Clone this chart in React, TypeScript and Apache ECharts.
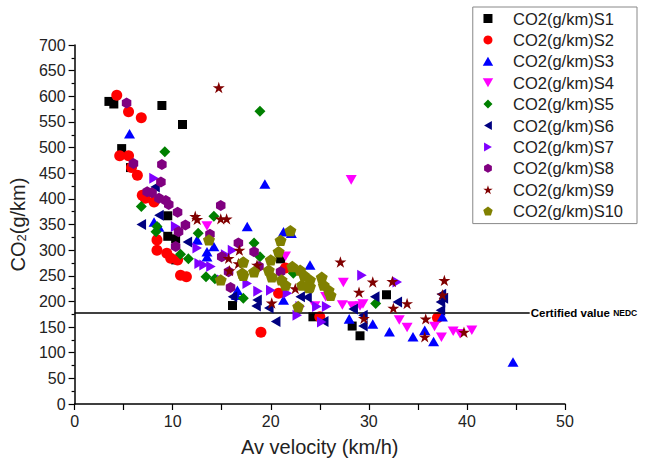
import React, { useEffect, useRef } from "react";
import * as echarts from "echarts";

const seriesNames = [
  "CO2(g/km)S1", "CO2(g/km)S2", "CO2(g/km)S3", "CO2(g/km)S4", "CO2(g/km)S5",
  "CO2(g/km)S6", "CO2(g/km)S7", "CO2(g/km)S8", "CO2(g/km)S9", "CO2(g/km)S10",
];

const s1: number[][] = [[3.5,590],[4,585],[8.9,582],[11,545],[4.8,498],[5.7,461],[9.5,367],[9.5,327],[10.3,322],[10.3,281],[16.1,192],[21,283],[24.3,170],[28.3,152],[29.1,133],[31.8,213]];
const s2: number[][] = [[4.3,602],[5.5,570],[6.8,558],[4.6,484],[5.5,484],[5.8,461],[6.4,446],[6.9,407],[7.2,401],[8.1,394],[8.4,320],[8.4,300],[9.4,294],[9.8,284],[10.5,281],[10.8,251],[11.4,248],[19,140],[21.5,265],[20.8,216],[25,170],[37,168]];
const s3: number[][] = [[5.6,527],[19.4,429],[17.6,346],[21.3,336],[22.1,333],[8.1,355],[8.6,345],[12.5,320],[14.2,307],[13.5,297],[24,271],[21.3,203],[16.5,212],[16.6,222],[30.4,156],[32.1,141],[34.5,131],[36.6,122],[28,166],[35.7,144],[37.5,170],[44.7,82],[13.5,287]];
const s4: number[][] = [[28.2,437],[13.5,347],[21.5,288],[27.4,237],[25.6,209],[27.3,193],[28.3,191],[29.1,191],[24.5,191],[33.1,164],[33.9,149],[36.7,151],[37.4,130],[38.6,142],[39.3,137],[40.5,144],[29.4,195]];
const s5: number[][] = [[9.2,492],[18.9,571],[6.8,385],[8.4,346],[8.3,336],[12.6,333],[14.2,366],[10.8,292],[11.6,283],[13.4,248],[14.3,244],[17.2,206],[18.3,314],[18.9,287],[22.3,255],[30.7,196]];
const s6: number[][] = [[6.8,350],[8.6,368],[8.2,423],[11.5,316],[16.1,209],[18.5,191],[18.6,203],[19.8,187],[20.5,161],[23,209],[23.7,208],[25.4,161],[28.4,185],[29.4,152],[29.4,173],[30.6,209],[32.9,199],[37.3,199],[37.3,183],[37.4,214],[37.6,206]];
const s7: number[][] = [[8.1,440],[10.3,346],[12.5,304],[13.2,271],[13.9,268],[15.4,291],[16.1,300],[15,242],[17.6,235],[18.7,220],[20,222],[21.7,216],[22.7,173],[24.7,190],[25.7,190],[29.3,251],[32.9,238],[25.2,160],[23,190],[12.7,274]];
const s8: number[][] = [[5.3,587],[6,469],[8.9,467],[8.8,433],[7.4,414],[7.9,412],[8.6,401],[9.3,397],[9.6,389],[10.5,374],[11.3,349],[10.6,336],[10.3,307],[14.9,387],[13.8,331],[15,287],[16.7,314],[15.9,227],[15.7,258],[18.3,297],[18.8,268],[21,258]];
const s9: number[][] = [[14.7,617],[12.3,366],[12.5,360],[14.9,361],[15.5,361],[15.7,284],[16.8,300],[16.7,274],[18.6,271],[15.8,260],[20.1,197],[22.5,225],[27.1,277],[30.4,238],[32.4,239],[37.7,241],[29,218],[32.5,187],[33.9,196],[35.8,166],[35.7,131],[37.5,213],[39.7,140],[29.5,167]];
const s10: number[][] = [[22,338],[21,319],[20.8,297],[17.2,277],[18.3,258],[17.2,251],[20,281],[19.8,261],[20.1,248],[21.1,242],[21.5,232],[22.2,268],[23,261],[23.4,251],[24,242],[23.2,232],[23.9,227],[25.2,247],[25.4,232],[25.9,222],[26.1,212],[22.8,190],[13.7,320],[14.9,242],[17.1,255],[24,229]];

const seriesData = [s1, s2, s3, s4, s5, s6, s7, s8, s9, s10];
const colors = ["#000000", "#ff0000", "#0000ff", "#ff00ff", "#008000", "#000080", "#8000ff", "#800080", "#800000", "#808000"];

const NEDC_VALUE = 178;
const NEDC_LINE_END = 46.4;

const symbols = [
  "path://M0,0 L10,0 L10,10 L0,10 Z",
  "circle",
  "path://M5,0 L10,8.66 L0,8.66 Z",
  "path://M0,0 L10,0 L5,8.66 Z",
  "path://M5,0 L10,5 L5,10 L0,5 Z",
  "path://M0,5 L8.66,0 L8.66,10 Z",
  "path://M0,0 L8.66,5 L0,10 Z",
  "path://M5,0 L9.33,2.5 L9.33,7.5 L5,10 L0.67,7.5 L0.67,2.5 Z",
  "path://M50,0 L61.2,34.55 L97.55,34.55 L68.2,55.9 L79.4,90.45 L50,69.1 L20.6,90.45 L31.8,55.9 L2.45,34.55 L38.8,34.55 Z",
  "path://M50,0 L97.55,34.55 L79.4,90.45 L20.6,90.45 L2.45,34.55 Z",
];
const sizes = [9, 11, 11, 11, 11, 11, 11, 11, 12, 12];

const FONT = "'Liberation Sans', Arial, sans-serif";

export default function App() {
  const ref = useRef<HTMLDivElement>(null);
  useEffect(() => {
    if (!ref.current) return;
    const chart = echarts.init(ref.current, undefined, { renderer: "svg" });
    const series: any[] = seriesNames.map((name, i) => ({
      name,
      type: "scatter",
      data: seriesData[i],
      symbol: symbols[i],
      symbolSize: sizes[i],
      symbolKeepAspect: true,
      itemStyle: { color: colors[i], opacity: 1 },
      z: 2 + i,
    }));
    series[0].markLine = {
      silent: true,
      symbol: "none",
      lineStyle: { color: "#000", width: 1.6, type: "solid" },
      label: {
        show: true,
        position: "end",
        distance: 1,
        formatter: "Certified value {s|NEDC}",
        fontFamily: FONT,
        fontWeight: "bold",
        fontSize: 11.5,
        color: "#000",
        rich: { s: { fontSize: 8.5, fontWeight: "bold", fontFamily: FONT, color: "#000" } },
      },
      data: [[{ coord: [0, NEDC_VALUE] }, { coord: [NEDC_LINE_END, NEDC_VALUE] }]],
    };
    chart.setOption({
      animation: false,
      backgroundColor: "#fff",
      textStyle: { fontFamily: FONT },
      grid: { left: 74, right: 81, top: 45, bottom: 66, containLabel: false },
      legend: {
        orient: "vertical",
        right: 9,
        top: 7,
        padding: [3, 14, 4, 10],
        itemGap: 4.4,
        itemWidth: 40,
        itemHeight: 9,
        borderColor: "#888",
        borderWidth: 1,
        data: seriesNames,
        textStyle: { fontSize: 16.5, color: "#222", fontFamily: FONT, lineHeight: 17 },
      },
      xAxis: {
        type: "value",
        min: 0,
        max: 50,
        interval: 10,
        name: "Av velocity (km/h)",
        nameLocation: "middle",
        nameGap: 33,
        nameTextStyle: { fontSize: 20, color: "#222", fontFamily: FONT },
        axisLine: { show: true, lineStyle: { color: "#000", width: 1.5 } },
        axisTick: { show: true, inside: false, length: 6, lineStyle: { color: "#000", width: 1.2 } },
        minorTick: { show: true, splitNumber: 2, length: 6, lineStyle: { color: "#000", width: 1.2 } },
        axisLabel: { fontSize: 16, color: "#222", margin: 9, fontFamily: FONT },
        splitLine: { show: false },
      },
      yAxis: {
        type: "value",
        min: 0,
        max: 700,
        interval: 50,
        name: "CO{m|2}(g/km)",
        nameLocation: "middle",
        nameGap: 22,
        nameTextStyle: {
          fontSize: 20,
          color: "#222",
          fontFamily: FONT,
          rich: {
            m: { fontSize: 13, verticalAlign: "bottom", lineHeight: 13, color: "#222", fontFamily: FONT },
          },
        },
        axisLine: { show: true, lineStyle: { color: "#000", width: 1.5 } },
        axisTick: { show: true, inside: false, length: 6, lineStyle: { color: "#000", width: 1.2 } },
        minorTick: { show: true, splitNumber: 2, length: 3, lineStyle: { color: "#000", width: 1.2 } },
        axisLabel: { fontSize: 16, color: "#222", margin: 9, fontFamily: FONT },
        splitLine: { show: false },
      },
      series,
    });
    return () => chart.dispose();
  }, []);
  return <div ref={ref} style={{ width: 646, height: 470, position: "absolute", left: 0, top: 0 }} />;
}
